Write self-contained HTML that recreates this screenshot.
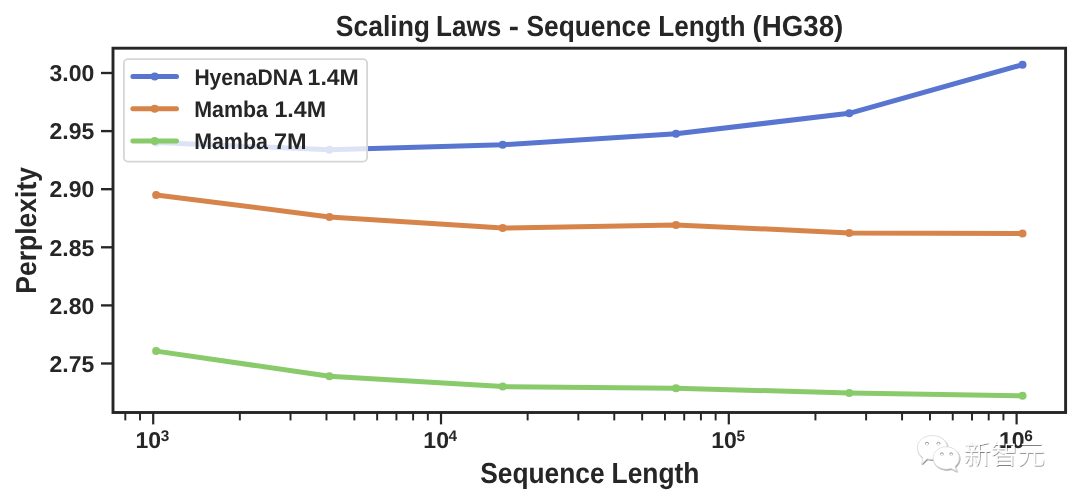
<!DOCTYPE html><html><head><meta charset="utf-8"><title>Scaling Laws - Sequence Length (HG38)</title><style>html,body{margin:0;padding:0;background:#fff;width:1080px;height:503px;overflow:hidden}svg{display:block;will-change:transform}text{font-family:"Liberation Sans", "DejaVu Sans", sans-serif;font-weight:bold;fill:#262626;text-rendering:geometricPrecision}</style></head><body>
<svg width="1080" height="503" viewBox="0 0 1080 503">
<rect x="0" y="0" width="1080" height="503" fill="#fff"/>
<text y="36.00" font-size="29.00"><tspan x="335.74" textLength="94.34" lengthAdjust="spacingAndGlyphs">Scaling</tspan> <tspan x="436.06" textLength="65.21" lengthAdjust="spacingAndGlyphs">Laws</tspan> <tspan x="508.80" textLength="10.23" lengthAdjust="spacingAndGlyphs">-</tspan> <tspan x="526.44" textLength="124.46" lengthAdjust="spacingAndGlyphs">Sequence</tspan> <tspan x="658.25" textLength="87.28" lengthAdjust="spacingAndGlyphs">Length</tspan> <tspan x="752.52" textLength="90.76" lengthAdjust="spacingAndGlyphs">(HG38)</tspan></text>
<path d="M156.16,142.50 L329.44,149.70 L502.71,144.80 L675.98,133.80 L849.26,113.30 L1022.53,64.70" fill="none" stroke="#5875d0" stroke-width="5.00" stroke-linejoin="round" stroke-linecap="round"/>
<circle cx="156.16" cy="142.50" r="4.00" fill="#5875d0"/>
<circle cx="329.44" cy="149.70" r="4.00" fill="#5875d0"/>
<circle cx="502.71" cy="144.80" r="4.00" fill="#5875d0"/>
<circle cx="675.98" cy="133.80" r="4.00" fill="#5875d0"/>
<circle cx="849.26" cy="113.30" r="4.00" fill="#5875d0"/>
<circle cx="1022.53" cy="64.70" r="4.00" fill="#5875d0"/>
<path d="M156.16,194.90 L329.44,216.90 L502.71,228.10 L675.98,224.90 L849.26,232.90 L1022.53,233.50" fill="none" stroke="#d7844a" stroke-width="5.00" stroke-linejoin="round" stroke-linecap="round"/>
<circle cx="156.16" cy="194.90" r="4.00" fill="#d7844a"/>
<circle cx="329.44" cy="216.90" r="4.00" fill="#d7844a"/>
<circle cx="502.71" cy="228.10" r="4.00" fill="#d7844a"/>
<circle cx="675.98" cy="224.90" r="4.00" fill="#d7844a"/>
<circle cx="849.26" cy="232.90" r="4.00" fill="#d7844a"/>
<circle cx="1022.53" cy="233.50" r="4.00" fill="#d7844a"/>
<path d="M156.16,351.10 L329.44,376.30 L502.71,386.60 L675.98,388.30 L849.26,392.90 L1022.53,395.80" fill="none" stroke="#89ca6b" stroke-width="5.00" stroke-linejoin="round" stroke-linecap="round"/>
<circle cx="156.16" cy="351.10" r="4.00" fill="#89ca6b"/>
<circle cx="329.44" cy="376.30" r="4.00" fill="#89ca6b"/>
<circle cx="502.71" cy="386.60" r="4.00" fill="#89ca6b"/>
<circle cx="675.98" cy="388.30" r="4.00" fill="#89ca6b"/>
<circle cx="849.26" cy="392.90" r="4.00" fill="#89ca6b"/>
<circle cx="1022.53" cy="395.80" r="4.00" fill="#89ca6b"/>
<rect x="113.00" y="48.20" width="952.60" height="364.30" fill="none" stroke="#262626" stroke-width="2.90"/>
<line x1="101.00" y1="73.00" x2="113.00" y2="73.00" stroke="#262626" stroke-width="2.35"/>
<text x="94.25" y="81.20" font-size="23.00" text-anchor="end">3.00</text>
<line x1="101.00" y1="131.10" x2="113.00" y2="131.10" stroke="#262626" stroke-width="2.35"/>
<text x="94.25" y="139.30" font-size="23.00" text-anchor="end">2.95</text>
<line x1="101.00" y1="189.20" x2="113.00" y2="189.20" stroke="#262626" stroke-width="2.35"/>
<text x="94.25" y="197.40" font-size="23.00" text-anchor="end">2.90</text>
<line x1="101.00" y1="247.30" x2="113.00" y2="247.30" stroke="#262626" stroke-width="2.35"/>
<text x="94.25" y="255.50" font-size="23.00" text-anchor="end">2.85</text>
<line x1="101.00" y1="305.40" x2="113.00" y2="305.40" stroke="#262626" stroke-width="2.35"/>
<text x="94.25" y="313.60" font-size="23.00" text-anchor="end">2.80</text>
<line x1="101.00" y1="363.50" x2="113.00" y2="363.50" stroke="#262626" stroke-width="2.35"/>
<text x="94.25" y="371.70" font-size="23.00" text-anchor="end">2.75</text>
<line x1="125.31" y1="412.50" x2="125.31" y2="420.40" stroke="#262626" stroke-width="1.95"/>
<line x1="140.03" y1="412.50" x2="140.03" y2="420.40" stroke="#262626" stroke-width="1.95"/>
<line x1="153.20" y1="412.50" x2="153.20" y2="424.40" stroke="#262626" stroke-width="2.20"/>
<text x="135.55" y="448.30" font-size="23.00" text-anchor="start">10</text>
<text x="160.80" y="440.70" font-size="15.40" text-anchor="start">3</text>
<line x1="239.84" y1="412.50" x2="239.84" y2="420.40" stroke="#262626" stroke-width="1.95"/>
<line x1="290.52" y1="412.50" x2="290.52" y2="420.40" stroke="#262626" stroke-width="1.95"/>
<line x1="326.47" y1="412.50" x2="326.47" y2="420.40" stroke="#262626" stroke-width="1.95"/>
<line x1="354.36" y1="412.50" x2="354.36" y2="420.40" stroke="#262626" stroke-width="1.95"/>
<line x1="377.15" y1="412.50" x2="377.15" y2="420.40" stroke="#262626" stroke-width="1.95"/>
<line x1="396.42" y1="412.50" x2="396.42" y2="420.40" stroke="#262626" stroke-width="1.95"/>
<line x1="413.11" y1="412.50" x2="413.11" y2="420.40" stroke="#262626" stroke-width="1.95"/>
<line x1="427.83" y1="412.50" x2="427.83" y2="420.40" stroke="#262626" stroke-width="1.95"/>
<line x1="441.00" y1="412.50" x2="441.00" y2="424.40" stroke="#262626" stroke-width="2.20"/>
<text x="423.35" y="448.30" font-size="23.00" text-anchor="start">10</text>
<text x="448.60" y="440.70" font-size="15.40" text-anchor="start">4</text>
<line x1="527.64" y1="412.50" x2="527.64" y2="420.40" stroke="#262626" stroke-width="1.95"/>
<line x1="578.32" y1="412.50" x2="578.32" y2="420.40" stroke="#262626" stroke-width="1.95"/>
<line x1="614.27" y1="412.50" x2="614.27" y2="420.40" stroke="#262626" stroke-width="1.95"/>
<line x1="642.16" y1="412.50" x2="642.16" y2="420.40" stroke="#262626" stroke-width="1.95"/>
<line x1="664.95" y1="412.50" x2="664.95" y2="420.40" stroke="#262626" stroke-width="1.95"/>
<line x1="684.22" y1="412.50" x2="684.22" y2="420.40" stroke="#262626" stroke-width="1.95"/>
<line x1="700.91" y1="412.50" x2="700.91" y2="420.40" stroke="#262626" stroke-width="1.95"/>
<line x1="715.63" y1="412.50" x2="715.63" y2="420.40" stroke="#262626" stroke-width="1.95"/>
<line x1="728.80" y1="412.50" x2="728.80" y2="424.40" stroke="#262626" stroke-width="2.20"/>
<text x="711.15" y="448.30" font-size="23.00" text-anchor="start">10</text>
<text x="736.40" y="440.70" font-size="15.40" text-anchor="start">5</text>
<line x1="815.44" y1="412.50" x2="815.44" y2="420.40" stroke="#262626" stroke-width="1.95"/>
<line x1="866.12" y1="412.50" x2="866.12" y2="420.40" stroke="#262626" stroke-width="1.95"/>
<line x1="902.07" y1="412.50" x2="902.07" y2="420.40" stroke="#262626" stroke-width="1.95"/>
<line x1="929.96" y1="412.50" x2="929.96" y2="420.40" stroke="#262626" stroke-width="1.95"/>
<line x1="952.75" y1="412.50" x2="952.75" y2="420.40" stroke="#262626" stroke-width="1.95"/>
<line x1="972.02" y1="412.50" x2="972.02" y2="420.40" stroke="#262626" stroke-width="1.95"/>
<line x1="988.71" y1="412.50" x2="988.71" y2="420.40" stroke="#262626" stroke-width="1.95"/>
<line x1="1003.43" y1="412.50" x2="1003.43" y2="420.40" stroke="#262626" stroke-width="1.95"/>
<line x1="1016.60" y1="412.50" x2="1016.60" y2="424.40" stroke="#262626" stroke-width="2.20"/>
<text x="998.95" y="448.30" font-size="23.00" text-anchor="start">10</text>
<text x="1024.20" y="440.70" font-size="15.40" text-anchor="start">6</text>
<rect x="123.90" y="59.20" width="243.20" height="102.40" rx="4.00" ry="4.00" fill="#fff" fill-opacity="0.80" stroke="#d6d6d6" stroke-width="1.80"/>
<line x1="132.90" y1="76.60" x2="176.50" y2="76.60" stroke="#5875d0" stroke-width="5.00" stroke-linecap="round"/>
<circle cx="154.70" cy="76.60" r="4.00" fill="#5875d0"/>
<text y="84.65" font-size="22.70"><tspan x="194.40" textLength="107.95" lengthAdjust="spacingAndGlyphs">HyenaDNA</tspan> <tspan x="307.55" textLength="51.30" lengthAdjust="spacingAndGlyphs">1.4M</tspan></text>
<line x1="132.90" y1="108.85" x2="176.50" y2="108.85" stroke="#d7844a" stroke-width="5.00" stroke-linecap="round"/>
<circle cx="154.70" cy="108.85" r="4.00" fill="#d7844a"/>
<text y="116.75" font-size="22.70"><tspan x="194.17" textLength="73.80" lengthAdjust="spacingAndGlyphs">Mamba</tspan> <tspan x="274.43" textLength="51.72" lengthAdjust="spacingAndGlyphs">1.4M</tspan></text>
<line x1="132.90" y1="141.10" x2="176.50" y2="141.10" stroke="#89ca6b" stroke-width="5.00" stroke-linecap="round"/>
<circle cx="154.70" cy="141.10" r="4.00" fill="#89ca6b"/>
<text y="148.95" font-size="22.70"><tspan x="194.17" textLength="73.70" lengthAdjust="spacingAndGlyphs">Mamba</tspan> <tspan x="273.99" textLength="32.69" lengthAdjust="spacingAndGlyphs">7M</tspan></text>
<text y="482.90" font-size="29.00"><tspan x="480.24" textLength="124.36" lengthAdjust="spacingAndGlyphs">Sequence</tspan> <tspan x="611.54" textLength="87.90" lengthAdjust="spacingAndGlyphs">Length</tspan></text>
<text y="0.00" font-size="28.80" transform="translate(35.50,291.90) rotate(-90)"><tspan x="-1.77" textLength="126.61" lengthAdjust="spacingAndGlyphs">Perplexity</tspan></text>
<defs><filter id="ds" x="-20%" y="-20%" width="140%" height="140%"><feDropShadow dx="0.6" dy="0.9" stdDeviation="0.45" flood-color="#000" flood-opacity="0.55"/></filter></defs>
<g filter="url(#ds)">
<path d="M932.3,435.5 C940.8,435.5 947.3,440.9 947.3,447.5 C947.3,454.1 940.8,459.5 932.3,459.5 C930.4,459.5 928.7,459.2 927.1,458.8 L921.8,463.9 L922.7,457.5 C919.4,455.3 917.4,451.6 917.4,447.5 C917.4,440.9 923.8,435.5 932.3,435.5 Z" fill="#fff" stroke="#d0d0d0" stroke-width="0.6"/>
<path d="M946.2,446.8 C953.4,446.8 959.2,451.8 959.2,458 C959.2,461.4 957.6,464.4 955,466.4 L956.6,471.3 L951.1,468.5 C949.6,469 947.9,469.2 946.2,469.2 C939,469.2 933.2,464.2 933.2,458 C933.2,451.8 939,446.8 946.2,446.8 Z" fill="#fff" stroke="#d0d0d0" stroke-width="0.6"/>
<circle cx="927" cy="443.8" r="1.6" fill="#fff" stroke="#c0c0c0" stroke-width="0.5"/>
<circle cx="938.5" cy="443.8" r="1.6" fill="#fff" stroke="#c0c0c0" stroke-width="0.5"/>
<circle cx="941.9" cy="454.3" r="1.5" fill="#fff" stroke="#c0c0c0" stroke-width="0.5"/>
<circle cx="951.2" cy="454.3" r="1.5" fill="#fff" stroke="#c0c0c0" stroke-width="0.5"/>
<path d="M925.4,443.9 A1.6,1.6 0 0 1 928.6,443.9 M936.9,443.9 A1.6,1.6 0 0 1 940.1,443.9 M940.4,454.4 A1.5,1.5 0 0 1 943.4,454.4 M949.7,454.4 A1.5,1.5 0 0 1 952.7,454.4" fill="none" stroke="#8c8c8c" stroke-width="0.8"/>
<text x="963.8" y="464.3" font-size="27" style="font-family:'Liberation Sans','Noto Sans CJK SC Light','Noto Sans CJK SC',sans-serif;font-weight:400;fill:#fff">新智元</text>
</g>
</svg></body></html>
